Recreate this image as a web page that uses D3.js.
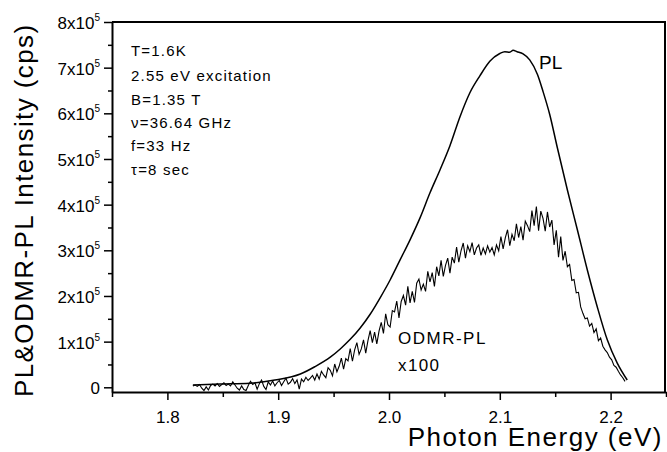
<!DOCTYPE html>
<html>
<head>
<meta charset="utf-8">
<script src="https://cdn.jsdelivr.net/npm/d3@7"></script>
<style>
  body { margin: 0; background: #fff; }
  text { font-family: "Liberation Sans", Arial, sans-serif; fill: #000; }
</style>
</head>
<body>
<div id="chart"></div>
<script>
// x ticks (eV) and y ticks (units of 1e5 cps)
var xMajor = [1.8, 1.9, 2.0, 2.1, 2.2];
var xMinor = [1.75, 1.85, 1.95, 2.05, 2.15, 2.25];
var yMajor = [0, 1, 2, 3, 4, 5, 6, 7, 8];
var yMinor = [0.5, 1.5, 2.5, 3.5, 4.5, 5.5, 6.5, 7.5];

// PL spectrum, intensity in 1e5 cps
var plEnergy = [1.823, 1.8475, 1.8745, 1.897, 1.920, 1.933, 1.947, 1.956, 1.965, 1.974,
  1.983, 1.992, 2.001, 2.010, 2.019, 2.028, 2.037, 2.046, 2.055, 2.064,
  2.073, 2.082, 2.091, 2.100, 2.1045, 2.109, 2.112, 2.1155, 2.121, 2.127,
  2.134, 2.139, 2.145, 2.152, 2.161, 2.170, 2.179, 2.188, 2.197, 2.206,
  2.215];
var plValue = [0.05, 0.07, 0.09, 0.16, 0.29, 0.45, 0.66, 0.84, 1.05, 1.30,
  1.60, 1.96, 2.35, 2.79, 3.23, 3.71, 4.26, 4.76, 5.29, 5.92,
  6.45, 6.82, 7.14, 7.31, 7.35, 7.34, 7.38, 7.35, 7.30, 7.17,
  6.85, 6.48, 5.98, 5.24, 4.32, 3.45, 2.57, 1.76, 1.04, 0.53,
  0.16];

// ODMR-PL spectrum (x100), sampled every 2 meV from 1.823 eV
var odmrStart = 1.823, odmrStep = 0.002;
var odmrValue = [
  0.03, 0.05, 0.02, 0.06, -0.02, -0.07, 0.01, -0.06, 0.04, 0.07,
  0.03, 0.08, 0.02, 0.06, 0.10, 0.04, 0.07, 0.03, 0.12, 0.05,
  -0.02, -0.06, 0.03, -0.05, -0.07, 0.04, 0.13, 0.06, 0.10, -0.04,
  0.08, 0.16, 0.02, -0.05, 0.12, 0.05, 0.14, 0.03, 0.10, 0.15,
  0.04, 0.12, 0.20, 0.07, 0.11, 0.19, 0.08, 0.16, -0.04, 0.18,
  0.12, 0.22, 0.15, 0.20, 0.26, 0.16, 0.29, 0.18, 0.35, 0.27,
  0.21, 0.43, 0.37, 0.25, 0.51, 0.34, 0.46, 0.64, 0.40, 0.63,
  0.58, 0.85, 0.57, 0.82, 0.98, 0.72, 0.84, 1.04, 0.75, 1.02,
  1.24, 0.98, 1.21, 0.95, 1.23, 1.42, 1.18, 1.61, 1.37, 1.32,
  1.68, 1.65, 1.89, 1.52, 1.88, 2.01, 1.80, 2.21, 1.85, 2.10,
  1.86, 2.28, 2.37, 2.13, 2.26, 2.10, 2.54, 2.31, 2.51, 2.21,
  2.64, 2.44, 2.78, 2.43, 2.67, 2.83, 2.50, 2.85, 2.72, 3.07,
  2.74, 2.99, 3.16, 2.83, 3.10, 2.97, 3.17, 2.90, 3.05, 3.12,
  2.89, 3.05, 2.92, 3.10, 2.96, 3.06, 2.90, 3.12, 2.99, 3.30,
  3.03, 3.28, 3.45, 3.10, 3.35, 3.21, 3.58, 3.28, 3.52, 3.22,
  3.64, 3.54, 3.41, 3.87, 3.54, 3.96, 3.43, 3.86, 3.70, 3.42,
  3.84, 3.51, 3.66, 3.12, 3.44, 2.85, 3.30, 2.78, 2.98, 2.64,
  2.69, 2.34, 2.36, 2.07, 2.08, 1.76, 1.62, 1.50, 1.52, 1.34,
  1.40, 1.20, 1.28, 1.02, 1.08, 0.90, 0.82, 0.76, 0.66, 0.60,
  0.48, 0.44, 0.35, 0.27, 0.21, 0.13];

var notes = ["T=1.6K", "2.55 eV excitation", "B=1.35 T", "\u03BD=36.64 GHz", "f=33 Hz", "\u03C4=8 sec"];
var noteBaseline = [56, 81, 104.5, 128, 151, 174.5];

var width = 667, height = 452;

var svg = d3.select("#chart")
  .append("svg")
    .attr("width", width)
    .attr("height", height);

var x = d3.scaleLinear().domain([1.75, 2.25]).range([112, 666]);
var y = d3.scaleLinear().domain([-0.103, 8]).range([392, 22]);

// frame top + right
svg.append("path")
  .attr("d", "M" + x.range()[0] + "," + y.range()[1] + "H" + (x.range()[1] - 1) + "V" + y.range()[0])
  .attr("fill", "none")
  .attr("stroke", "#000")
  .attr("stroke-width", 2);

// X axis
var gx = svg.append("g").attr("transform", "translate(0," + y.range()[0] + ")");
gx.call(d3.axisBottom(x).tickValues(xMajor).tickSize(8).tickSizeOuter(0).tickFormat(d3.format(".1f")));
gx.append("g").call(d3.axisBottom(x).tickValues(xMinor).tickSize(5).tickSizeOuter(0).tickFormat(""))
  .select(".domain").remove();
gx.selectAll(".tick line").attr("stroke-width", 1.5);
gx.select(".domain").attr("stroke-width", 2);
gx.selectAll(".tick text").attr("font-size", 17).attr("y", 31).attr("dy", "0")
  .style("font-family", "'Liberation Sans', Arial, sans-serif");

// Y axis
var gy = svg.append("g").attr("transform", "translate(" + x.range()[0] + ",0)");
gy.call(d3.axisLeft(y).tickValues(yMajor).tickSize(8).tickSizeOuter(0).tickFormat(""));
gy.append("g").call(d3.axisLeft(y).tickValues(yMinor).tickSize(4).tickSizeOuter(0).tickFormat(""))
  .select(".domain").remove();
gy.selectAll(".tick line").attr("stroke-width", 1.5);
gy.select(".domain").attr("stroke-width", 2);

// y tick labels with superscript exponent
yMajor.forEach(function (v) {
  var t = svg.append("text")
    .attr("x", 100)
    .attr("y", y(v) + 7)
    .attr("text-anchor", "end")
    .attr("font-size", 17);
  if (v === 0) {
    t.text("0");
  } else {
    t.append("tspan").text(v + "x10");
    t.append("tspan").attr("font-size", 10).attr("dy", -8).text("5");
  }
});

// axis titles
svg.append("text")
  .attr("x", 663)
  .attr("y", 446)
  .attr("text-anchor", "end")
  .attr("font-size", 26)
  .attr("letter-spacing", "1.5px")
  .text("Photon Energy (eV)");

svg.append("text")
  .attr("transform", "translate(33,397) rotate(-90)")
  .attr("text-anchor", "start")
  .attr("font-size", 26)
  .attr("letter-spacing", "1.4px")
  .text("PL&ODMR-PL Intensity (cps)");

// curves
var plData = plEnergy.map(function (e, i) { return { e: e, v: plValue[i] }; });
var odmrData = odmrValue.map(function (v, i) { return { e: odmrStart + i * odmrStep, v: v }; });

svg.append("path")
  .datum(odmrData)
  .attr("fill", "none")
  .attr("stroke", "#000")
  .attr("stroke-width", 1.1)
  .attr("d", d3.line()
    .x(function (d) { return x(d.e); })
    .y(function (d) { return y(d.v); }));

svg.append("path")
  .datum(plData)
  .attr("fill", "none")
  .attr("stroke", "#000")
  .attr("stroke-width", 1.5)
  .attr("d", d3.line()
    .curve(d3.curveMonotoneX)
    .x(function (d) { return x(d.e); })
    .y(function (d) { return y(d.v); }));

// annotations
svg.selectAll(".note")
  .data(notes)
  .enter().append("text")
    .attr("class", "note")
    .attr("x", 131)
    .attr("y", function (d, i) { return noteBaseline[i]; })
    .attr("font-size", 15)
    .attr("letter-spacing", "1.2px")
    .text(function (d) { return d; });

svg.append("text").attr("x", 539).attr("y", 69).attr("font-size", 19).text("PL");
svg.append("text").attr("x", 398).attr("y", 344).attr("font-size", 17)
  .attr("letter-spacing", "1.5px").text("ODMR-PL");
svg.append("text").attr("x", 398).attr("y", 371).attr("font-size", 17)
  .attr("letter-spacing", "1.4px").text("x100");
</script>
</body>
</html>
